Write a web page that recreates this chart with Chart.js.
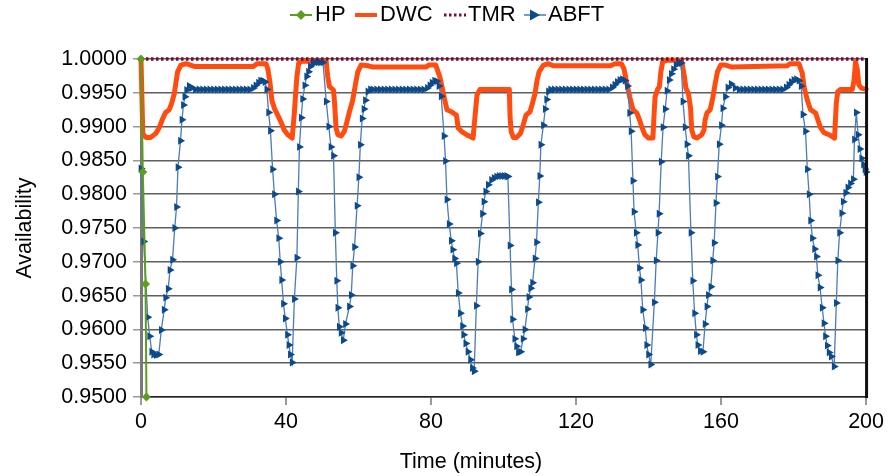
<!DOCTYPE html>
<html>
<head>
<meta charset="utf-8">
<script src="https://cdn.jsdelivr.net/npm/chart.js@4.4.1/dist/chart.umd.min.js"></script>
<style>
  html, body { margin: 0; padding: 0; background: #fff; }
  #wrap { width: 888px; height: 476px; }
</style>
</head>
<body>
<div id="wrap"><canvas id="myChart" width="888" height="476"></canvas></div>
<script>
// tick labels
var xTicks = [0, 40, 80, 120, 160, 200];
var yMin = 0.95, yMax = 1.0, yStep = 0.005;

// HP
var hpTime  = [0, 0.5, 1.25, 1.5];
var hpValue = [1.0000, 0.9833, 0.9667, 0.9500];

// TMR
var tmrTime  = [0, 200];
var tmrValue = [1.0000, 1.0000];

// DWC
var dwcTime = [0, 0.5, 1.3, 2.7, 4.1, 5.0, 6.0, 6.8, 7.8, 8.5, 9.2, 9.6, 10.1, 11.0, 12.4, 14.7,
  31.0, 32.0, 34.5, 35.0, 35.6, 36.1, 36.8, 37.7, 38.6, 39.5, 40.5, 41.7, 42.3, 42.6, 43.0, 43.5, 44.6,
  51.1, 51.5, 52.0, 53.1, 53.4, 53.8, 54.3, 55.2, 56.1, 56.8, 57.5, 58.4, 59.2, 59.8, 60.7, 62.6, 64.0,
  78.6, 79.4, 81.3, 82.4, 83.1, 83.8, 84.4, 85.6, 87.0, 87.5, 88.4, 89.8, 91.6, 92.3, 92.7, 93.5,
  101.6, 101.8, 102.1, 102.7, 103.6, 104.7, 105.4, 106.2, 107.3, 108.0, 108.7, 109.2, 109.8, 111.0, 112.4, 113.7,
  129.5, 130.8, 132.5, 133.2, 134.0, 134.8, 135.7, 136.8, 137.5, 138.1, 139.0, 140.0, 141.2, 141.5, 141.8, 142.5, 143.0, 143.4, 143.9, 145.0,
  149.1, 149.9, 150.3, 151.0, 151.6, 151.9, 152.5, 153.3, 154.7, 155.3, 155.6, 156.1, 157.0, 157.7, 158.4, 159.0, 159.9, 161.2, 163.0,
  178.2, 179.1, 181.5, 182.4, 182.9, 183.8, 184.7, 186.1, 186.7, 187.4, 188.4, 189.8, 191.3, 191.8, 192.2, 193.0,
  196.2, 196.7, 197.1, 197.6, 198.0, 198.7, 200];
var dwcValue = [1.0000, 0.9890, 0.9884, 0.9884, 0.9890, 0.9898, 0.9912, 0.9921, 0.9925, 0.9935, 0.9949, 0.9964, 0.9981, 0.9991, 0.9993, 0.9989,
  0.9989, 0.9993, 0.9993, 0.9985, 0.9964, 0.9939, 0.9927, 0.9917, 0.9907, 0.9895, 0.9888, 0.9883, 0.9920, 0.9944, 0.9974, 0.9994, 0.9997,
  0.9996, 0.9974, 0.9959, 0.9954, 0.9935, 0.9898, 0.9888, 0.9886, 0.9893, 0.9907, 0.9922, 0.9939, 0.9964, 0.9981, 0.9991, 0.9990, 0.9988,
  0.9988, 0.9991, 0.9991, 0.9974, 0.9957, 0.9939, 0.9925, 0.9922, 0.9917, 0.9898, 0.9893, 0.9888, 0.9883, 0.9925, 0.9947, 0.9955,
  0.9955, 0.9915, 0.9893, 0.9884, 0.9884, 0.9890, 0.9902, 0.9917, 0.9922, 0.9935, 0.9949, 0.9967, 0.9981, 0.9991, 0.9993, 0.9990,
  0.9990, 0.9993, 0.9993, 0.9986, 0.9964, 0.9944, 0.9925, 0.9920, 0.9910, 0.9900, 0.9888, 0.9883, 0.9883, 0.9915, 0.9944, 0.9955, 0.9959, 0.9981, 0.9996, 0.9998,
  0.9998, 0.9974, 0.9957, 0.9949, 0.9927, 0.9895, 0.9885, 0.9883, 0.9888, 0.9895, 0.9910, 0.9920, 0.9925, 0.9942, 0.9964, 0.9981, 0.9991, 0.9991, 0.9988,
  0.9990, 0.9993, 0.9993, 0.9979, 0.9959, 0.9939, 0.9925, 0.9920, 0.9910, 0.9899, 0.9891, 0.9888, 0.9883, 0.9935, 0.9952, 0.9955,
  0.9955, 0.9969, 0.9996, 0.9984, 0.9962, 0.9957, 0.9955];

// ABFT
var abftTime = [0, 0.75, 1.85, 2.4, 2.96, 3.5, 4.2, 4.9, 5.6, 6.4, 6.8, 7.5, 8.0, 8.7, 9.3, 9.8, 10.2, 10.9, 11.3, 11.7, 12.1, 12.6, 13.3, 14,
  15, 16, 17, 18, 19, 20, 21, 22, 23, 24, 25, 26, 27, 28, 29, 30,
  31, 31.7, 32.4, 33, 33.6, 34.2, 34.7,
  35.2, 35.7, 36.3, 36.8, 37.4, 38.0, 38.4, 38.8, 39.3, 39.8, 40.4, 40.8, 41.2, 41.7,
  42.3, 43.0, 43.4, 43.7, 44.2, 44.6, 45.2, 45.7, 46.2, 46.7, 47.4, 48.1, 48.8, 49.5, 50.2,
  51.1, 51.8, 52.4, 53.1, 53.6, 54.0, 54.3, 54.7, 55.2, 55.8,
  56.4, 57.5, 58.0, 58.4, 58.9, 59.6, 60.1, 60.5, 61.0, 61.5, 61.9, 62.6, 63.3,
  64, 65, 66, 67, 68, 69, 70, 71, 72, 73, 74, 75, 76, 77, 78,
  79, 79.7, 80.3, 81, 81.6, 82.2,
  82.8, 83.6, 84.0, 84.4, 85.0, 85.6, 86.0, 86.5, 87.0, 87.5, 88.1, 88.7, 89.0, 89.6, 90.2, 90.9, 91.4, 91.9,
  92.5, 93.0, 93.6, 94.2, 94.6, 95.1, 95.8, 96.7, 97.4, 98.1, 98.8, 99.5, 100.2, 100.9, 101.2,
  101.8, 102.2, 102.5, 103.1, 103.6, 104.1, 104.7,
  105.4, 105.9, 106.6, 107.0, 107.5, 108.0, 108.7, 109.1, 109.6, 110.0, 110.3, 111.0, 111.5, 111.9, 112.4, 113,
  114, 115, 116, 117, 118, 119, 120, 121, 122, 123, 124, 125, 126, 127, 128, 129,
  130, 130.7, 131.4, 132.1, 132.8, 133.5, 134.2,
  134.8, 135.2, 135.7, 136.0, 136.6, 137.0, 137.5, 137.9, 138.4, 139.1, 139.5, 140.0, 140.6,
  141.6, 142.1, 142.6, 142.9, 143.5, 144.0, 144.6, 145.1, 145.7, 146.3, 146.9, 147.6, 148.3, 149.0,
  149.5, 150.1, 150.6, 151.0, 151.7, 152.2, 152.7, 153.2, 153.6, 154.3, 155.0,
  155.6, 156.1, 156.5, 157.2, 157.7, 158.1, 158.6, 159.0, 159.5, 160.1, 160.5, 161.2, 161.9, 162.8, 163.9,
  165, 166, 167, 168, 169, 170, 171, 172, 173, 174, 175, 176, 177,
  178, 178.7, 179.4, 180.1, 180.8, 181.5, 182.1,
  182.6, 183.3, 183.8, 184.3, 184.7, 185.2, 185.8, 186.3, 186.7, 187.3, 187.9, 188.4, 188.8, 189.3, 189.8, 190.4, 191.2,
  191.8, 192.2, 192.7, 193.3, 193.7, 194.4, 195.0, 195.7, 196.5, 196.8, 197.3, 197.8, 198.3, 198.8, 199.3, 199.7, 200];
var abftValue = [0.9838, 0.9730, 0.9618, 0.9590, 0.9567, 0.9563, 0.9562, 0.9563, 0.9599, 0.9629, 0.9647, 0.9660, 0.9688, 0.9703, 0.9750, 0.9781, 0.9840, 0.9879, 0.9910, 0.9932, 0.9944, 0.9954, 0.9960, 0.9957,
  0.9955, 0.9955, 0.9955, 0.9955, 0.9955, 0.9955, 0.9955, 0.9955, 0.9955, 0.9955, 0.9955, 0.9955, 0.9955, 0.9955, 0.9955, 0.9955,
  0.9957, 0.9961, 0.9965, 0.9968, 0.9968, 0.9966, 0.9955,
  0.9921, 0.9894, 0.9837, 0.9800, 0.9761, 0.9735, 0.9700, 0.9673, 0.9638, 0.9616, 0.9592, 0.9577, 0.9563, 0.9551,
  0.9645, 0.9706, 0.9804, 0.9870, 0.9913, 0.9941, 0.9961, 0.9974, 0.9981, 0.9989, 0.9993, 0.9995, 0.9995, 0.9995, 0.9995,
  0.9937, 0.9900, 0.9870, 0.9857, 0.9743, 0.9672, 0.9632, 0.9604, 0.9595, 0.9584,
  0.9608, 0.9634, 0.9651, 0.9694, 0.9722, 0.9783, 0.9825, 0.9873, 0.9912, 0.9926, 0.9939, 0.9952, 0.9955,
  0.9955, 0.9955, 0.9955, 0.9955, 0.9955, 0.9955, 0.9955, 0.9955, 0.9955, 0.9955, 0.9955, 0.9955, 0.9955, 0.9955, 0.9955,
  0.9957, 0.9961, 0.9965, 0.9968, 0.9967, 0.9960,
  0.9945, 0.9886, 0.9849, 0.9792, 0.9756, 0.9731, 0.9718, 0.9705, 0.9698, 0.9654, 0.9624, 0.9605, 0.9592, 0.9579, 0.9567, 0.9555, 0.9543, 0.9538,
  0.9635, 0.9700, 0.9742, 0.9771, 0.9789, 0.9804, 0.9814, 0.9821, 0.9824, 0.9826, 0.9827, 0.9827, 0.9827, 0.9827, 0.9826,
  0.9724, 0.9659, 0.9615, 0.9586, 0.9575, 0.9566, 0.9567,
  0.9586, 0.9600, 0.9630, 0.9648, 0.9661, 0.9669, 0.9705, 0.9729, 0.9788, 0.9827, 0.9873, 0.9902, 0.9926, 0.9940, 0.9952, 0.9955,
  0.9955, 0.9955, 0.9955, 0.9955, 0.9955, 0.9955, 0.9955, 0.9955, 0.9955, 0.9955, 0.9955, 0.9955, 0.9955, 0.9955, 0.9955, 0.9955,
  0.9958, 0.9962, 0.9966, 0.9969, 0.9970, 0.9968, 0.9960,
  0.9920, 0.9893, 0.9820, 0.9774, 0.9743, 0.9725, 0.9691, 0.9673, 0.9629, 0.9602, 0.9577, 0.9563, 0.9548,
  0.9640, 0.9702, 0.9743, 0.9771, 0.9848, 0.9899, 0.9926, 0.9953, 0.9969, 0.9978, 0.9985, 0.9991, 0.9994, 0.9994,
  0.9937, 0.9899, 0.9874, 0.9857, 0.9743, 0.9672, 0.9624, 0.9592, 0.9577, 0.9568, 0.9567,
  0.9608, 0.9634, 0.9651, 0.9663, 0.9702, 0.9728, 0.9787, 0.9826, 0.9874, 0.9902, 0.9927, 0.9944, 0.9958, 0.9963, 0.9957,
  0.9955, 0.9955, 0.9955, 0.9955, 0.9955, 0.9955, 0.9955, 0.9955, 0.9955, 0.9955, 0.9955, 0.9955, 0.9955,
  0.9958, 0.9962, 0.9966, 0.9969, 0.9970, 0.9968, 0.9960,
  0.9918, 0.9893, 0.9837, 0.9800, 0.9761, 0.9735, 0.9719, 0.9708, 0.9680, 0.9662, 0.9632, 0.9609, 0.9590, 0.9576, 0.9566, 0.9560, 0.9545,
  0.9639, 0.9702, 0.9743, 0.9772, 0.9789, 0.9802, 0.9810, 0.9816, 0.9822, 0.9881, 0.9921, 0.9888, 0.9867, 0.9853, 0.9844, 0.9837, 0.9833];

var FONT = '"Liberation Sans", Arial, Helvetica, sans-serif';
var GREEN = '#5b9e1f', ORANGE = '#ff4d12', MAROON = '#7d0a2c', BLUE_LINE = '#4d7bb5', BLUE_PT = '#0c4a8c';

function pts(t, v) {
    return t.map(function(x, i) { return { x: x, y: v[i] }; });
}

// legend, axis titles and right frame line
var extras = {
    id: 'extras',
    afterDraw: function(chart) {
        var ctx = chart.ctx;
        var ca = chart.chartArea;
        ctx.save();

        // right frame
        ctx.strokeStyle = '#111';
        ctx.lineWidth = 3;
        ctx.beginPath();
        ctx.moveTo(ca.right + 0.5, ca.top - 1);
        ctx.lineTo(ca.right + 0.5, ca.bottom + 1);
        ctx.stroke();

        ctx.fillStyle = '#000';
        ctx.font = '22px ' + FONT;
        ctx.textBaseline = 'middle';
        ctx.textAlign = 'left';

        var ly = 15;
        // HP
        ctx.strokeStyle = GREEN; ctx.lineWidth = 2; ctx.setLineDash([]);
        ctx.beginPath(); ctx.moveTo(290, ly); ctx.lineTo(312, ly); ctx.stroke();
        ctx.fillStyle = GREEN;
        ctx.beginPath(); ctx.moveTo(301, ly - 5); ctx.lineTo(306, ly); ctx.lineTo(301, ly + 5); ctx.lineTo(296, ly); ctx.closePath(); ctx.fill();
        ctx.fillStyle = '#000'; ctx.fillText('HP', 315, ly);
        // DWC
        ctx.strokeStyle = ORANGE; ctx.lineWidth = 4;
        ctx.beginPath(); ctx.moveTo(355, ly); ctx.lineTo(377, ly); ctx.stroke();
        ctx.fillText('DWC', 380, ly);
        // TMR
        ctx.strokeStyle = MAROON; ctx.lineWidth = 3; ctx.setLineDash([2.5, 2.5]);
        ctx.beginPath(); ctx.moveTo(444, ly); ctx.lineTo(466, ly); ctx.stroke();
        ctx.setLineDash([]);
        ctx.fillText('TMR', 468, ly);
        // ABFT
        ctx.strokeStyle = BLUE_LINE; ctx.lineWidth = 1.5;
        ctx.beginPath(); ctx.moveTo(524, ly); ctx.lineTo(546, ly); ctx.stroke();
        ctx.fillStyle = BLUE_PT;
        ctx.beginPath(); ctx.moveTo(540, ly); ctx.lineTo(530, ly - 5.5); ctx.lineTo(530, ly + 5.5); ctx.closePath(); ctx.fill();
        ctx.fillStyle = '#000'; ctx.fillText('ABFT', 548, ly);

        // axis titles
        ctx.font = '21.5px ' + FONT;
        ctx.textAlign = 'center';
        ctx.fillText('Time (minutes)', 471, 462);
        ctx.translate(25, (ca.top + ca.bottom) / 2);
        ctx.rotate(-Math.PI / 2);
        ctx.fillText('Availability', 0, 0);
        ctx.restore();
    }
};

const ctx = document.getElementById('myChart').getContext('2d');
const myChart = new Chart(ctx, {
    type: 'line',
    data: {
        datasets: [
            {
                label: 'HP',
                data: pts(hpTime, hpValue),
                borderColor: GREEN,
                backgroundColor: GREEN,
                borderWidth: 2,
                pointStyle: 'rectRot',
                pointRadius: 4.5,
                pointBorderWidth: 0,
                order: 0,
                clip: false
            },
            {
                label: 'DWC',
                data: pts(dwcTime, dwcValue),
                borderColor: ORANGE,
                backgroundColor: ORANGE,
                borderWidth: 5,
                borderJoinStyle: 'round',
                borderCapStyle: 'round',
                pointRadius: 0,
                order: 3,
                clip: false
            },
            {
                label: 'TMR',
                data: pts(tmrTime, tmrValue),
                borderColor: MAROON,
                backgroundColor: MAROON,
                borderWidth: 3.5,
                borderDash: [2.5, 2.5],
                pointRadius: 0,
                order: 1,
                clip: false
            },
            {
                label: 'ABFT',
                data: pts(abftTime, abftValue),
                borderColor: BLUE_LINE,
                backgroundColor: BLUE_PT,
                borderWidth: 1.3,
                pointStyle: 'triangle',
                rotation: 90,
                pointRadius: 4.6,
                pointBorderWidth: 0,
                pointBackgroundColor: BLUE_PT,
                order: 2,
                clip: false
            }
        ]
    },
    options: {
        responsive: false,
        animation: false,
        layout: { padding: { left: 0, right: 21, top: 59, bottom: 0 } },
        plugins: {
            legend: { display: false },
            tooltip: { enabled: false },
            title: { display: false }
        },
        scales: {
            x: {
                type: 'linear',
                min: 0,
                max: 200,
                afterBuildTicks: function(scale) {
                    scale.ticks = xTicks.map(function(v) { return { value: v }; });
                },
                afterFit: function(scale) { scale.height = 79; },
                ticks: {
                    color: '#000',
                    font: { size: 21.5, family: FONT },
                    padding: 4,
                    maxRotation: 0
                },
                grid: {
                    display: true,
                    drawOnChartArea: false,
                    drawTicks: true,
                    tickLength: 8,
                    color: '#9a9a9a',
                    lineWidth: 2
                },
                border: { display: true, color: '#222', width: 1.5 }
            },
            y: {
                min: yMin,
                max: yMax,
                afterFit: function(scale) { scale.width = 141; },
                ticks: {
                    stepSize: yStep,
                    color: '#000',
                    font: { size: 21.5, family: FONT },
                    padding: 6,
                    callback: function(v) { return v.toFixed(4); }
                },
                grid: {
                    color: '#5e5e5e',
                    lineWidth: 1.5,
                    drawTicks: true,
                    tickLength: 8,
                    tickColor: '#9a9a9a'
                },
                border: { display: true, color: '#7a7a7a', width: 3 }
            }
        }
    },
    plugins: [extras]
});
</script>
</body>
</html>
